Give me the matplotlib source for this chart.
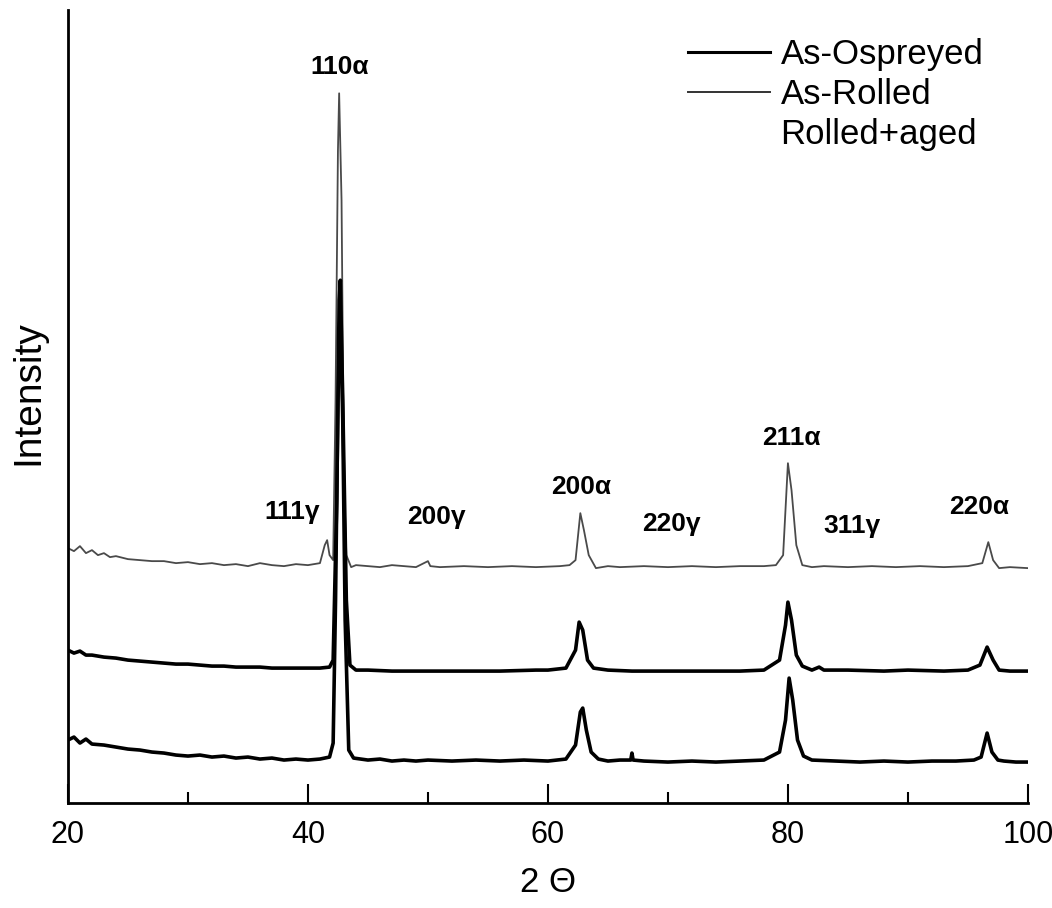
import numpy as np
import matplotlib.pyplot as plt
from matplotlib.ticker import MultipleLocator

# XRD patterns (2 theta in degrees, intensity in arbitrary units)
ospreyed_2t = [20, 20.5, 21, 21.5, 22, 23, 24, 25, 26, 27, 28, 29, 30, 31, 32, 33, 34, 35, 36, 37, 38, 39, 40, 41,
               41.8, 42.1, 42.3, 42.5, 42.7, 42.9, 43.1, 43.4, 43.8, 45, 46, 47, 48, 49, 50, 52, 54, 56, 58, 60,
               61.5, 62.3, 62.7, 62.9, 63.2, 63.6, 64.2, 65, 66, 66.9, 67.0, 67.1, 68, 70, 72, 74, 76, 78,
               79.3, 79.8, 80.1, 80.4, 80.8, 81.3, 82, 84, 86, 88, 90, 92, 94, 95.5, 96.1, 96.6, 97.0, 97.5,
               98, 99, 100]
ospreyed_i = [63, 66, 60, 64, 59, 58, 56, 54, 53, 51, 50, 48, 47, 48, 46, 47, 45, 46, 44, 45, 43, 44, 43, 44,
              46, 60, 203, 403, 503, 383, 183, 53, 45, 43, 44, 42, 43, 42, 43, 42, 43, 42, 43, 42,
              44, 58, 91, 95, 73, 51, 44, 42, 43, 43, 50, 43, 42, 41, 42, 41, 42, 43,
              51, 83, 125, 103, 63, 47, 43, 42, 41, 42, 41, 42, 42, 43, 46, 70, 51, 43,
              42, 41, 41]

aged_2t = [20, 20.5, 21, 21.5, 22, 23, 24, 25, 26, 27, 28, 29, 30, 31, 32, 33, 34, 35, 36, 37, 38, 39, 40, 41,
           41.8, 42.1, 42.4, 42.6, 42.7, 42.9, 43.2, 43.5, 44, 45, 47, 50, 53, 56, 59, 60,
           61.5, 62.3, 62.6, 62.9, 63.3, 63.8, 65, 67, 70, 73, 76, 78,
           79.3, 79.8, 80.0, 80.3, 80.7, 81.2, 82, 82.6, 83, 85, 88, 90, 93, 95,
           96.0, 96.6, 97.1, 97.6, 98.5, 100]
aged_i = [153, 150, 152, 148, 148, 146, 145, 143, 142, 141, 140, 139, 139, 138, 137, 137, 136, 136, 136, 135, 135, 135, 135, 135,
          136, 143, 303, 503, 523, 403, 203, 138, 133, 133, 132, 132, 132, 132, 133, 133,
          135, 153, 181, 173, 143, 135, 133, 132, 132, 132, 132, 133,
          143, 178, 201, 183, 148, 137, 133, 136, 133, 133, 132, 133, 132, 133,
          138, 156, 143, 133, 132, 132]

rolled_2t = [20, 20.5, 21, 21.5, 22, 22.5, 23, 23.5, 24, 25, 26, 27, 28, 29, 30, 31, 32, 33, 34, 35, 36, 37, 38, 39, 40,
             41.0, 41.4, 41.6, 41.8, 42.1, 42.3, 42.5, 42.6, 42.8, 43.0, 43.2, 43.6, 44, 45, 46, 47, 48, 49, 50, 50.2,
             51, 53, 55, 57, 59, 61, 61.8, 62.3, 62.7, 63.0, 63.4, 64, 65, 66, 68, 70, 72, 74, 76, 78,
             79, 79.6, 80.0, 80.3, 80.7, 81.2, 82, 83, 85, 87, 89, 91, 93, 95, 96.2, 96.7, 97.1, 97.6, 98.5, 100]
rolled_i = [255, 252, 257, 250, 253, 248, 250, 246, 247, 244, 243, 242, 242, 240, 241, 239, 240, 238, 239, 237, 240, 238, 237, 239, 238,
            240, 258, 263, 248, 243, 403, 653, 710, 603, 323, 248, 236, 238, 237, 236, 238, 237, 236, 242, 237,
            236, 237, 236, 237, 236, 237, 238, 243, 290, 273, 248, 235, 237, 236, 237, 236, 237, 236, 237, 237,
            238, 248, 340, 313, 258, 238, 236, 237, 236, 237, 236, 237, 236, 237, 240, 261, 243, 235, 236, 235]

peak_names = ['110\u03b1', '111\u03b3', '200\u03b3', '200\u03b1', '220\u03b3', '211\u03b1', '311\u03b3', '220\u03b1']
peak_label_2t = [42.6, 38.7, 50.7, 62.8, 70.25, 80.25, 85.3, 95.9]
peak_label_i = [736, 291, 286, 316, 279, 365, 277, 296]

plt.rcParams['font.family'] = ['Liberation Sans', 'DejaVu Sans']
fig = plt.figure(figsize=(10.52, 9.08), dpi=100)
ax = fig.add_axes([0.0646, 0.1156, 0.9125, 0.873])

ax.plot(ospreyed_2t, ospreyed_i, color='black', lw=2.6, label='As-Ospreyed')
ax.plot(rolled_2t, rolled_i, color='#4a4a4a', lw=1.3, label='As-Rolled')
ax.plot(aged_2t, aged_i, color='black', lw=2.6, label='Rolled+aged')

for name, x, y in zip(peak_names, peak_label_2t, peak_label_i):
    ax.text(x, y, name, ha='center', va='center', fontsize=19, fontweight='bold')

leg = ax.legend(loc='upper left', bbox_to_anchor=(0.646, 0.965), frameon=False, fontsize=25,
                handlelength=2.36, handletextpad=0.3, labelspacing=0.2, borderaxespad=0, borderpad=0)
leg.get_lines()[2].set_visible(False)
leg.get_lines()[0].set_linewidth(2.2)
leg.get_lines()[1].set_linewidth(1.4)
leg.get_lines()[1].set_color('#333333')

ax.set_xlim(20, 100)
ax.set_ylim(0, 793)
ax.spines['top'].set_visible(False)
ax.spines['right'].set_visible(False)
ax.spines['left'].set_linewidth(2)
ax.spines['bottom'].set_linewidth(2)
ax.xaxis.set_major_locator(MultipleLocator(20))
ax.xaxis.set_minor_locator(MultipleLocator(10))
ax.tick_params(axis='x', which='major', direction='in', length=14, width=1.5, labelsize=22, pad=12)
ax.tick_params(axis='x', which='minor', direction='in', length=8, width=1.5)
ax.set_yticks([])
ax.set_xlabel('2 \u0398', fontsize=25, labelpad=12)
ax.set_ylabel('Intensity', fontsize=28)
ax.yaxis.set_label_coords(-0.022, 0.518)

fig.savefig('out.png', dpi=100)
